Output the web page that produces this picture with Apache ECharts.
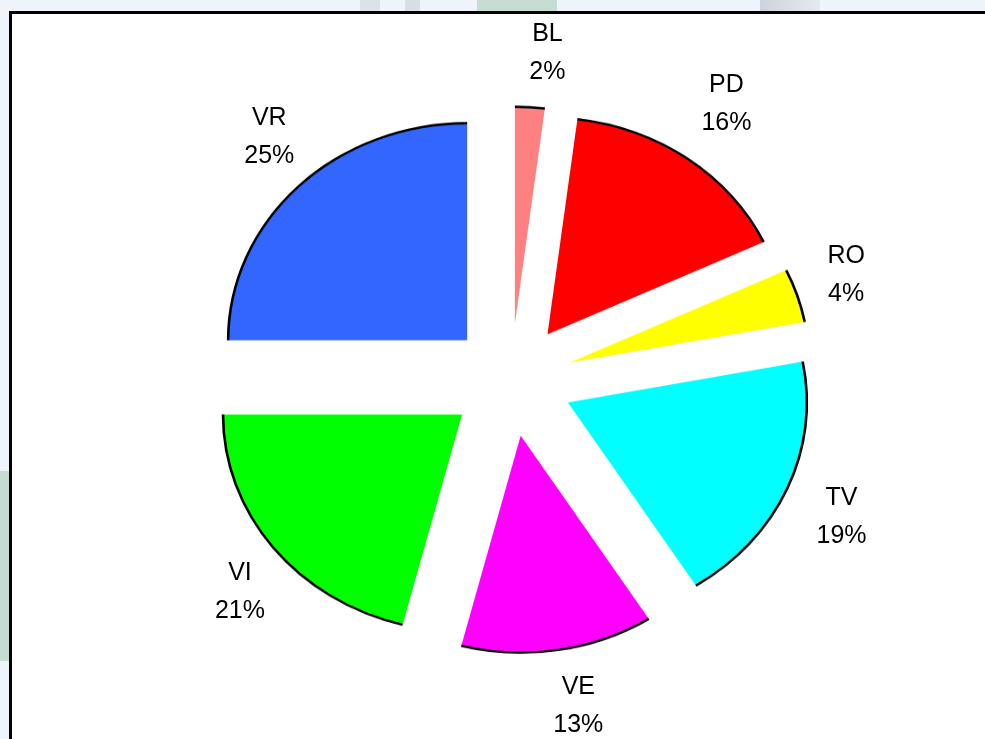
<!DOCTYPE html>
<html><head><meta charset="utf-8">
<script src="https://cdn.jsdelivr.net/npm/echarts@6/dist/echarts.min.js"></script>
<style>
html,body{margin:0;padding:0;width:985px;height:739px;overflow:hidden;background:#eff3fb;position:relative;}
.patch{position:absolute;}
#frame{position:absolute;left:9px;top:11px;width:1000px;height:760px;background:#fff;border-left:3px solid #000;border-top:3px solid #000;box-sizing:border-box;}
#pie{position:absolute;left:0;top:0;width:985px;height:814px;transform:scaleY(0.908);transform-origin:0 0;}
#labels{position:absolute;left:0;top:0;width:985px;height:739px;}
</style></head><body>
<div class="patch" style="left:360px;top:0;width:20px;height:11px;background:#dde2ea"></div>
<div class="patch" style="left:405px;top:0;width:15px;height:11px;background:#d8dde6"></div>
<div class="patch" style="left:477px;top:0;width:80px;height:11px;background:#c5ddd2"></div>
<div class="patch" style="left:760px;top:0;width:60px;height:11px;background:linear-gradient(90deg,#cfd2dc,#e6e9f0)"></div>
<div class="patch" style="left:0;top:471px;width:9px;height:190px;background:#c5dbd3"></div>
<div id="frame"></div>
<div id="pie"></div>
<div id="labels"></div>
<script>
// ---- data ----
const categories = ['BL', 'PD', 'RO', 'TV', 'VE', 'VI', 'VR'];
const shares = [2, 16, 4, 19, 13, 21, 25];
const sliceColors = ['#ff8080', '#ff0000', '#ffff00', '#00ffff', '#ff00ff', '#00ff00', '#3366ff'];

const SCALE_Y = 0.908;
const CX = 511, CY = 380;      // screen centre
const R = 239, OFFSET = 62;

const pieData = categories.map((c, i) => ({
  name: c, value: shares[i], selected: true,
  itemStyle: { color: sliceColors[i] }
}));
const ringData = categories.map((c, i) => ({
  name: c, value: shares[i], selected: true,
  itemStyle: { color: '#000' }
}));

const pieChart = echarts.init(document.getElementById('pie'), null, { width: 985, height: 814 });
pieChart.setOption({
  animation: false,
  series: [
    {
      type: 'pie', silent: true, startAngle: 90, clockwise: true,
      center: [CX, CY / SCALE_Y], radius: [0, R],
      selectedMode: 'multiple', selectedOffset: OFFSET,
      label: { show: false }, labelLine: { show: false },
      itemStyle: { borderWidth: 0 },
      select: { itemStyle: { borderWidth: 0 } },
      emphasis: { disabled: true },
      data: pieData
    },
    {
      type: 'pie', silent: true, startAngle: 90, clockwise: true,
      center: [CX, CY / SCALE_Y], radius: [R - 1.3, R + 1.3],
      selectedMode: 'multiple', selectedOffset: OFFSET,
      label: { show: false }, labelLine: { show: false },
      itemStyle: { borderWidth: 0 },
      select: { itemStyle: { borderWidth: 0, color: '#000' } },
      emphasis: { disabled: true },
      data: ringData
    }
  ]
});

// ---- labels layer (unscaled) ----
const total = shares.reduce((a, b) => a + b, 0);
const midAngles = [];
let cum = 0;
shares.forEach(v => { midAngles.push((cum + v / 2) / total * 2 * Math.PI); cum += v; });
const LABEL_GAP = 15, RIGHT_SHIFT = 16, SIDE_TRIM = 8;

const labelChart = echarts.init(document.getElementById('labels'), null, { width: 985, height: 739 });
labelChart.setOption({
  animation: false,
  series: [{
    type: 'pie', silent: true, startAngle: 90, clockwise: true,
    center: [CX, CY], radius: [0, R],
    avoidLabelOverlap: false,
    itemStyle: { color: 'rgba(0,0,0,0)', borderWidth: 0 },
    emphasis: { disabled: true },
    labelLine: { show: false },
    label: {
      show: true, position: 'outside',
      formatter: p => p.name + '\n' + p.value + '%',
      fontFamily: 'Liberation Sans, Arial, sans-serif',
      fontSize: 25, lineHeight: 38, color: '#000', align: 'center'
    },
    labelLayout: function (params) {
      const a = midAngles[params.dataIndex];
      const s = Math.sin(a), c = Math.cos(a);
      const ax = CX + OFFSET * s, ay = CY - OFFSET * c * SCALE_Y;
      const ellR = Math.sqrt(Math.pow(R * s, 2) + Math.pow(R * SCALE_Y * c, 2));
      const hw = params.labelRect.width / 2, hh = params.labelRect.height / 2;
      const L = ellR + hw * Math.abs(s) + hh * Math.abs(c) + LABEL_GAP;
      return {
        x: ax + (L - SIDE_TRIM) * s + (s > 0 ? RIGHT_SHIFT : 0),
        y: ay - L * c,
        align: 'center', verticalAlign: 'middle'
      };
    },
    data: categories.map((c, i) => ({ name: c, value: shares[i] }))
  }]
});
</script>
</body></html>
